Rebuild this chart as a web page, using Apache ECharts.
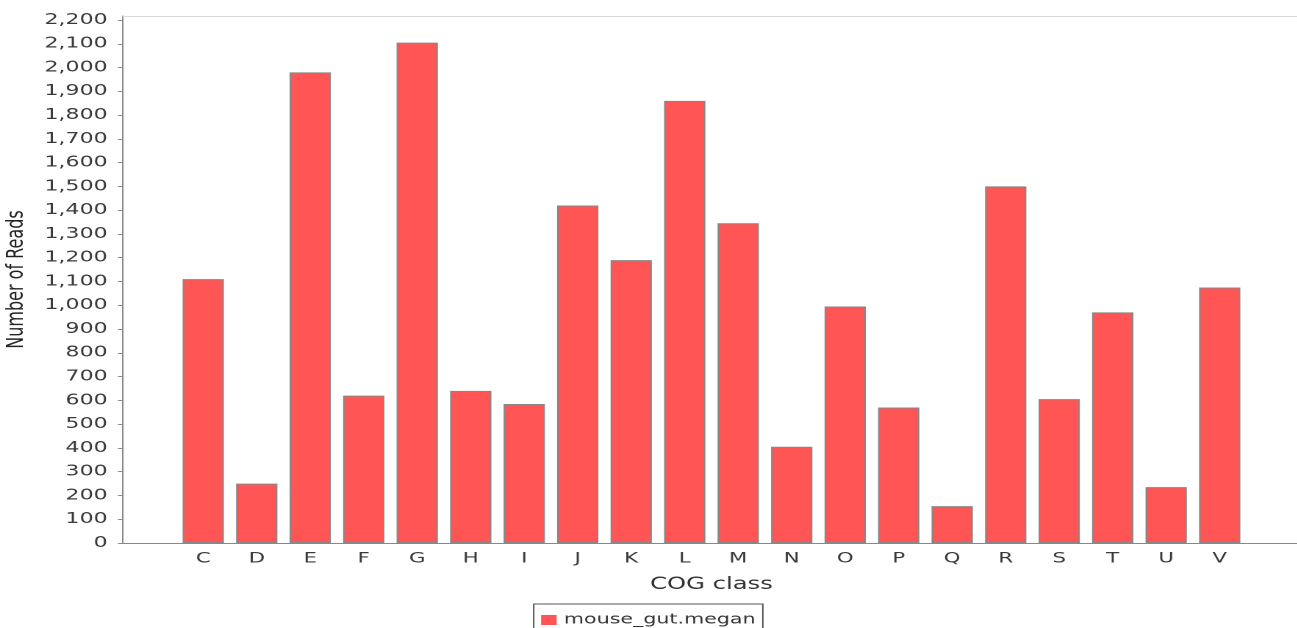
<!DOCTYPE html>
<html>
<head>
<meta charset="utf-8">
<script src="https://cdn.jsdelivr.net/npm/echarts@6/dist/echarts.min.js"></script>
<style>
  html, body { margin: 0; padding: 0; background: #fff; overflow: hidden; }
  #wrap { width: 1297px; height: 628px; overflow: hidden; }
  #chart { height: 628px; transform-origin: 0 0; }
</style>
</head>
<body>
<div id="wrap"><div id="chart"></div></div>
<script>
// ---- data ----
const categories = ['C','D','E','F','G','H','I','J','K','L','M','N','O','P','Q','R','S','T','U','V'];
const reads = [1110, 250, 1980, 620, 2105, 640, 585, 1420, 1190, 1860, 1345, 405, 995, 570, 155, 1500, 605, 970, 235, 1075];
const yTicks = [0,100,200,300,400,500,600,700,800,900,1000,1100,1200,1300,1400,1500,1600,1700,1800,1900,2000,2100,2200];
const seriesName = 'mouse_gut.megan';
const xTitle = 'COG class';
const yTitle = 'Number of Reads';

// horizontal stretch of the reference rendering
const S = 1.47;
const el = document.getElementById('chart');
el.style.width = (1297 / S) + 'px';
el.style.transform = 'scaleX(' + S + ')';

// one empty band of margin on each side of the category axis
const axisCats = [''].concat(categories, ['']);
const axisVals = [null].concat(reads, [null]);

const font = 'DejaVu Sans';
const chart = echarts.init(el, null, { renderer: 'canvas', devicePixelRatio: 2 });
chart.setOption({
  animation: false,
  backgroundColor: '#ffffff',
  grid: { left: 123 / S, right: -3.4 / S, top: 16, bottom: 85, containLabel: false, outerBoundsMode: 'none' },
  legend: {
    data: [seriesName],
    left: 'center',
    top: 604,
    orient: 'horizontal',
    icon: 'rect',
    itemWidth: 10.6,
    itemHeight: 10,
    padding: [9, 5, 9, 5],
    borderColor: '#555555',
    borderWidth: 1,
    borderRadius: 0,
    textStyle: { fontFamily: font, fontSize: 14, color: '#333' },
    itemStyle: { borderWidth: 0 }
  },
  xAxis: [
    {
      type: 'category',
      data: axisCats,
      boundaryGap: true,
      axisLine: { show: true, lineStyle: { color: '#888888', width: 1 } },
      axisTick: { show: false },
      axisLabel: { fontFamily: font, fontSize: 14.5, color: '#3a3a3a', margin: 8, interval: 0 },
      splitLine: { show: false },
      name: xTitle,
      nameLocation: 'middle',
      nameGap: 33,
      nameTextStyle: { fontFamily: font, fontSize: 16.5, color: '#333' }
    },
    {
      type: 'category',
      position: 'top',
      data: axisCats,
      axisLine: { show: true, lineStyle: { color: '#d8d8d8', width: 1 } },
      axisTick: { show: false },
      axisLabel: { show: false },
      splitLine: { show: false }
    }
  ],
  yAxis: {
    type: 'value',
    min: 0,
    max: 2217,
    axisLine: { show: true, lineStyle: { color: '#888888', width: 1 } },
    axisTick: { show: true, length: 3.4, lineStyle: { color: '#888888' }, customValues: yTicks },
    axisLabel: {
      customValues: yTicks,
      fontFamily: font, fontSize: 15, color: '#3a3a3a', margin: 10.5,
      formatter: v => Number(v).toLocaleString('en-US')
    },
    splitLine: { show: false },
    name: yTitle,
    nameLocation: 'middle',
    nameRotate: 90,
    nameGap: 56,
    nameTextStyle: { fontFamily: font, fontSize: 16, color: '#222' }
  },
  series: [{
    name: seriesName,
    type: 'bar',
    data: axisVals,
    barWidth: 41.3 / S,
    itemStyle: { color: '#FF5555', borderColor: '#888888', borderWidth: 1 }
  }]
});
</script>
</body>
</html>
